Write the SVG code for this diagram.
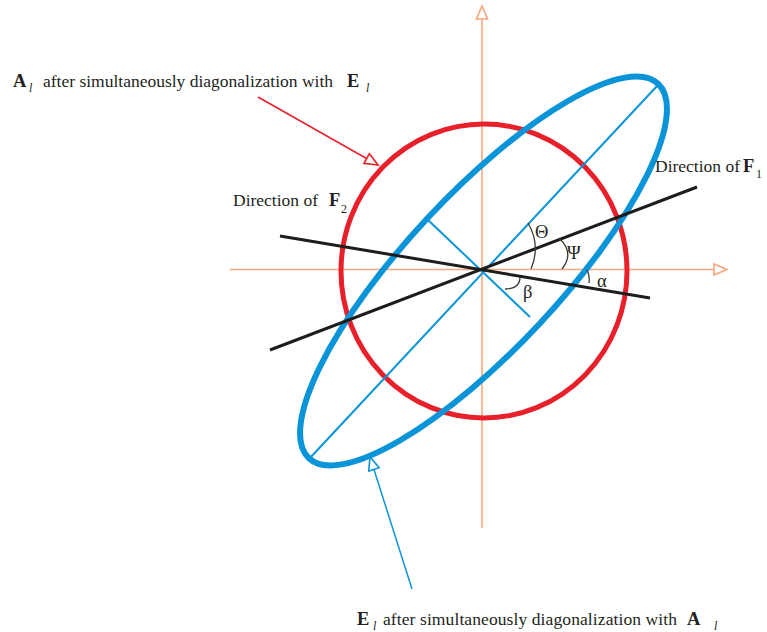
<svg xmlns="http://www.w3.org/2000/svg" width="767" height="632" viewBox="0 0 767 632">
<defs>
<style>
.txt{font-family:"Liberation Serif","Times New Roman",serif;font-size:17.5px;fill:#231f20}
.b{font-weight:bold;font-size:18.5px}
.sub{font-style:italic;font-size:12px}
.subn{font-size:12px}
.gr{font-family:"Liberation Serif","DejaVu Serif",serif;font-size:18.5px;fill:#231f20}
.axis{stroke:#F7A67C;stroke-width:1.6;fill:none}
.blk{stroke:#1d1d1b;stroke-width:3;fill:none}
.thinb{stroke:#0b94d8;stroke-width:2;fill:none}
.arc{stroke:#3a3a32;stroke-width:1.3;fill:none}
</style>
<marker id="arrO" markerUnits="userSpaceOnUse" viewBox="-16 -8 18 16" refX="0" refY="0" markerWidth="18" markerHeight="16" orient="auto">
<path d="M0,0 L-13,-5.5 L-13,5.5 Z" fill="#fff" stroke="#F7A67C" stroke-width="1.6"/>
</marker>
<marker id="arrR" markerUnits="userSpaceOnUse" viewBox="-16 -8 18 16" refX="0" refY="0" markerWidth="18" markerHeight="16" orient="auto">
<path d="M0,0 L-13,-5.5 L-13,5.5 Z" fill="#fff" stroke="#E8202A" stroke-width="1.6"/>
</marker>
<marker id="arrB" markerUnits="userSpaceOnUse" viewBox="-16 -8 18 16" refX="0" refY="0" markerWidth="18" markerHeight="16" orient="auto">
<path d="M0,0 L-13,-5.5 L-13,5.5 Z" fill="#fff" stroke="#0b94d8" stroke-width="1.6"/>
</marker>
</defs>
<rect width="767" height="632" fill="#fff"/>

<g id="axes">
<line class="axis" x1="230" y1="269.5" x2="727" y2="269.5" marker-end="url(#arrO)"/>
<line class="axis" x1="482" y1="528" x2="482" y2="6" marker-end="url(#arrO)"/>
</g>

<g id="circleA">
<ellipse cx="484" cy="271" rx="143" ry="147" fill="none" stroke="#E8202A" stroke-width="5"/>
</g>

<g id="ellipseE">
<ellipse cx="0" cy="0" rx="256" ry="77" transform="translate(483.5,271) rotate(-47)" fill="none" stroke="#0b94d8" stroke-width="6"/>
<line class="thinb" x1="310" y1="458" x2="657" y2="86"/>
<line class="thinb" x1="428" y1="220" x2="530" y2="317"/>
</g>

<g id="directionF1">
<line class="blk" x1="270" y1="350" x2="697" y2="187"/>
<text class="txt" x="655" y="172">Direction of <tspan class="b" x="743">F</tspan><tspan class="subn" x="756" y="178">1</tspan></text>
</g>

<g id="directionF2">
<line class="blk" x1="280" y1="236" x2="650" y2="298"/>
<text class="txt" x="233" y="206">Direction of <tspan class="b" x="329">F</tspan><tspan class="subn" x="341" y="213">2</tspan></text>
</g>

<g id="angles">
<path class="arc" d="M528,223 Q541,245 531,269"/>
<path class="arc" d="M559,238 Q575,253 562,269"/>
<path class="arc" d="M587,270 Q590,276 589,283"/>
<path class="arc" d="M505,289 Q520,289 520,277"/>
<text class="gr" x="535" y="238">Θ</text>
<text class="gr" x="567" y="259">Ψ</text>
<text class="gr" x="597" y="287">α</text>
<text class="gr" x="523" y="298">β</text>
</g>

<g id="connectors">
<line x1="258" y1="97" x2="378" y2="165" stroke="#E8202A" stroke-width="1.5" marker-end="url(#arrR)"/>
<line x1="412" y1="589" x2="370" y2="457" stroke="#0b94d8" stroke-width="1.5" marker-end="url(#arrB)"/>
</g>

<g id="labelA">
<text class="txt" x="13" y="87"><tspan class="b">A</tspan><tspan class="sub" x="29" y="92">l</tspan><tspan x="43" y="87" textLength="290" lengthAdjust="spacing">after simultaneously diagonalization with</tspan><tspan class="b" x="347" y="87">E</tspan><tspan class="sub" x="366" y="92">l</tspan></text>
</g>

<g id="labelE">
<text class="txt" x="357" y="625"><tspan class="b">E</tspan><tspan class="sub" x="373" y="630">l</tspan><tspan x="383" y="625" textLength="294" lengthAdjust="spacing">after simultaneously diagonalization with</tspan><tspan class="b" x="687" y="625">A</tspan><tspan class="sub" x="714" y="630">l</tspan></text>
</g>
</svg>
